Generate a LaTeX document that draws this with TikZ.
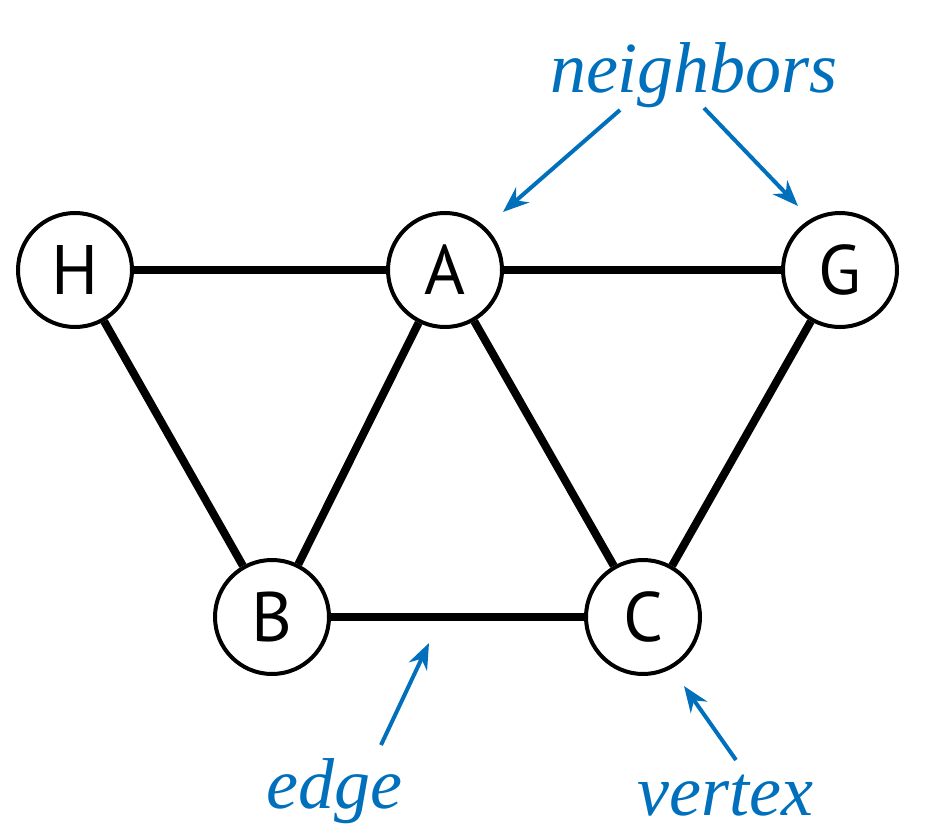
\documentclass[tikz,border=0pt]{standalone}
\usepackage{fontspec}
\setmainfont{Liberation Serif}
\newfontfamily\lettersf{PT Sans}
\usetikzlibrary{arrows.meta}
\definecolor{pointblue}{RGB}{0,112,188}
\tikzset{
  vert/.style={circle,draw,line width=4pt,minimum size=114pt,inner sep=0pt,
    font=\lettersf\fontsize{70}{72}\selectfont},
  edg/.style={line width=8pt},
  note/.style={text=pointblue,anchor=base,inner sep=0pt,
    font=\itshape\fontsize{72}{74}\selectfont},
  pointer/.style={draw=pointblue,line width=4pt,-{Stealth[length=26pt,width=20pt]}}
}
\begin{document}
\begin{tikzpicture}[x=1pt,y=-1pt]
\useasboundingbox (0,0) rectangle (946,835);
\node[vert] (H) at (75,270) {H};
\node[vert] (A) at (445,270) {A};
\node[vert] (G) at (840,270) {G};
\node[vert] (B) at (272,617) {B};
\node[vert] (C) at (643,617) {C};
\draw[edg] (H) -- (A);
\draw[edg] (A) -- (G);
\draw[edg] (H) -- (B);
\draw[edg] (A) -- (B);
\draw[edg] (A) -- (C);
\draw[edg] (G) -- (C);
\draw[edg] (B) -- (C);
% labels
\node[note] (nbr) at (694,92) {neighbors};
\node[note] (edgelbl) at (334,808) {edge};
\node[note] (vtxlbl) at (725,815) {vertex};
\coordinate (nbrL) at (620,110);
\coordinate (nbrR) at (704,108);
\coordinate (tipA) at (503,212);
\coordinate (tipG) at (798,206);
\coordinate (edgeFrom) at (381,745);
\coordinate (tipBC) at (429,643);
\coordinate (vtxFrom) at (736,760);
\coordinate (tipC) at (684,686);
\draw[pointer] (nbrL) -- (tipA);
\draw[pointer] (nbrR) -- (tipG);
\draw[pointer] (edgeFrom) -- (tipBC);
\draw[pointer] (vtxFrom) -- (tipC);
\end{tikzpicture}
\end{document}
